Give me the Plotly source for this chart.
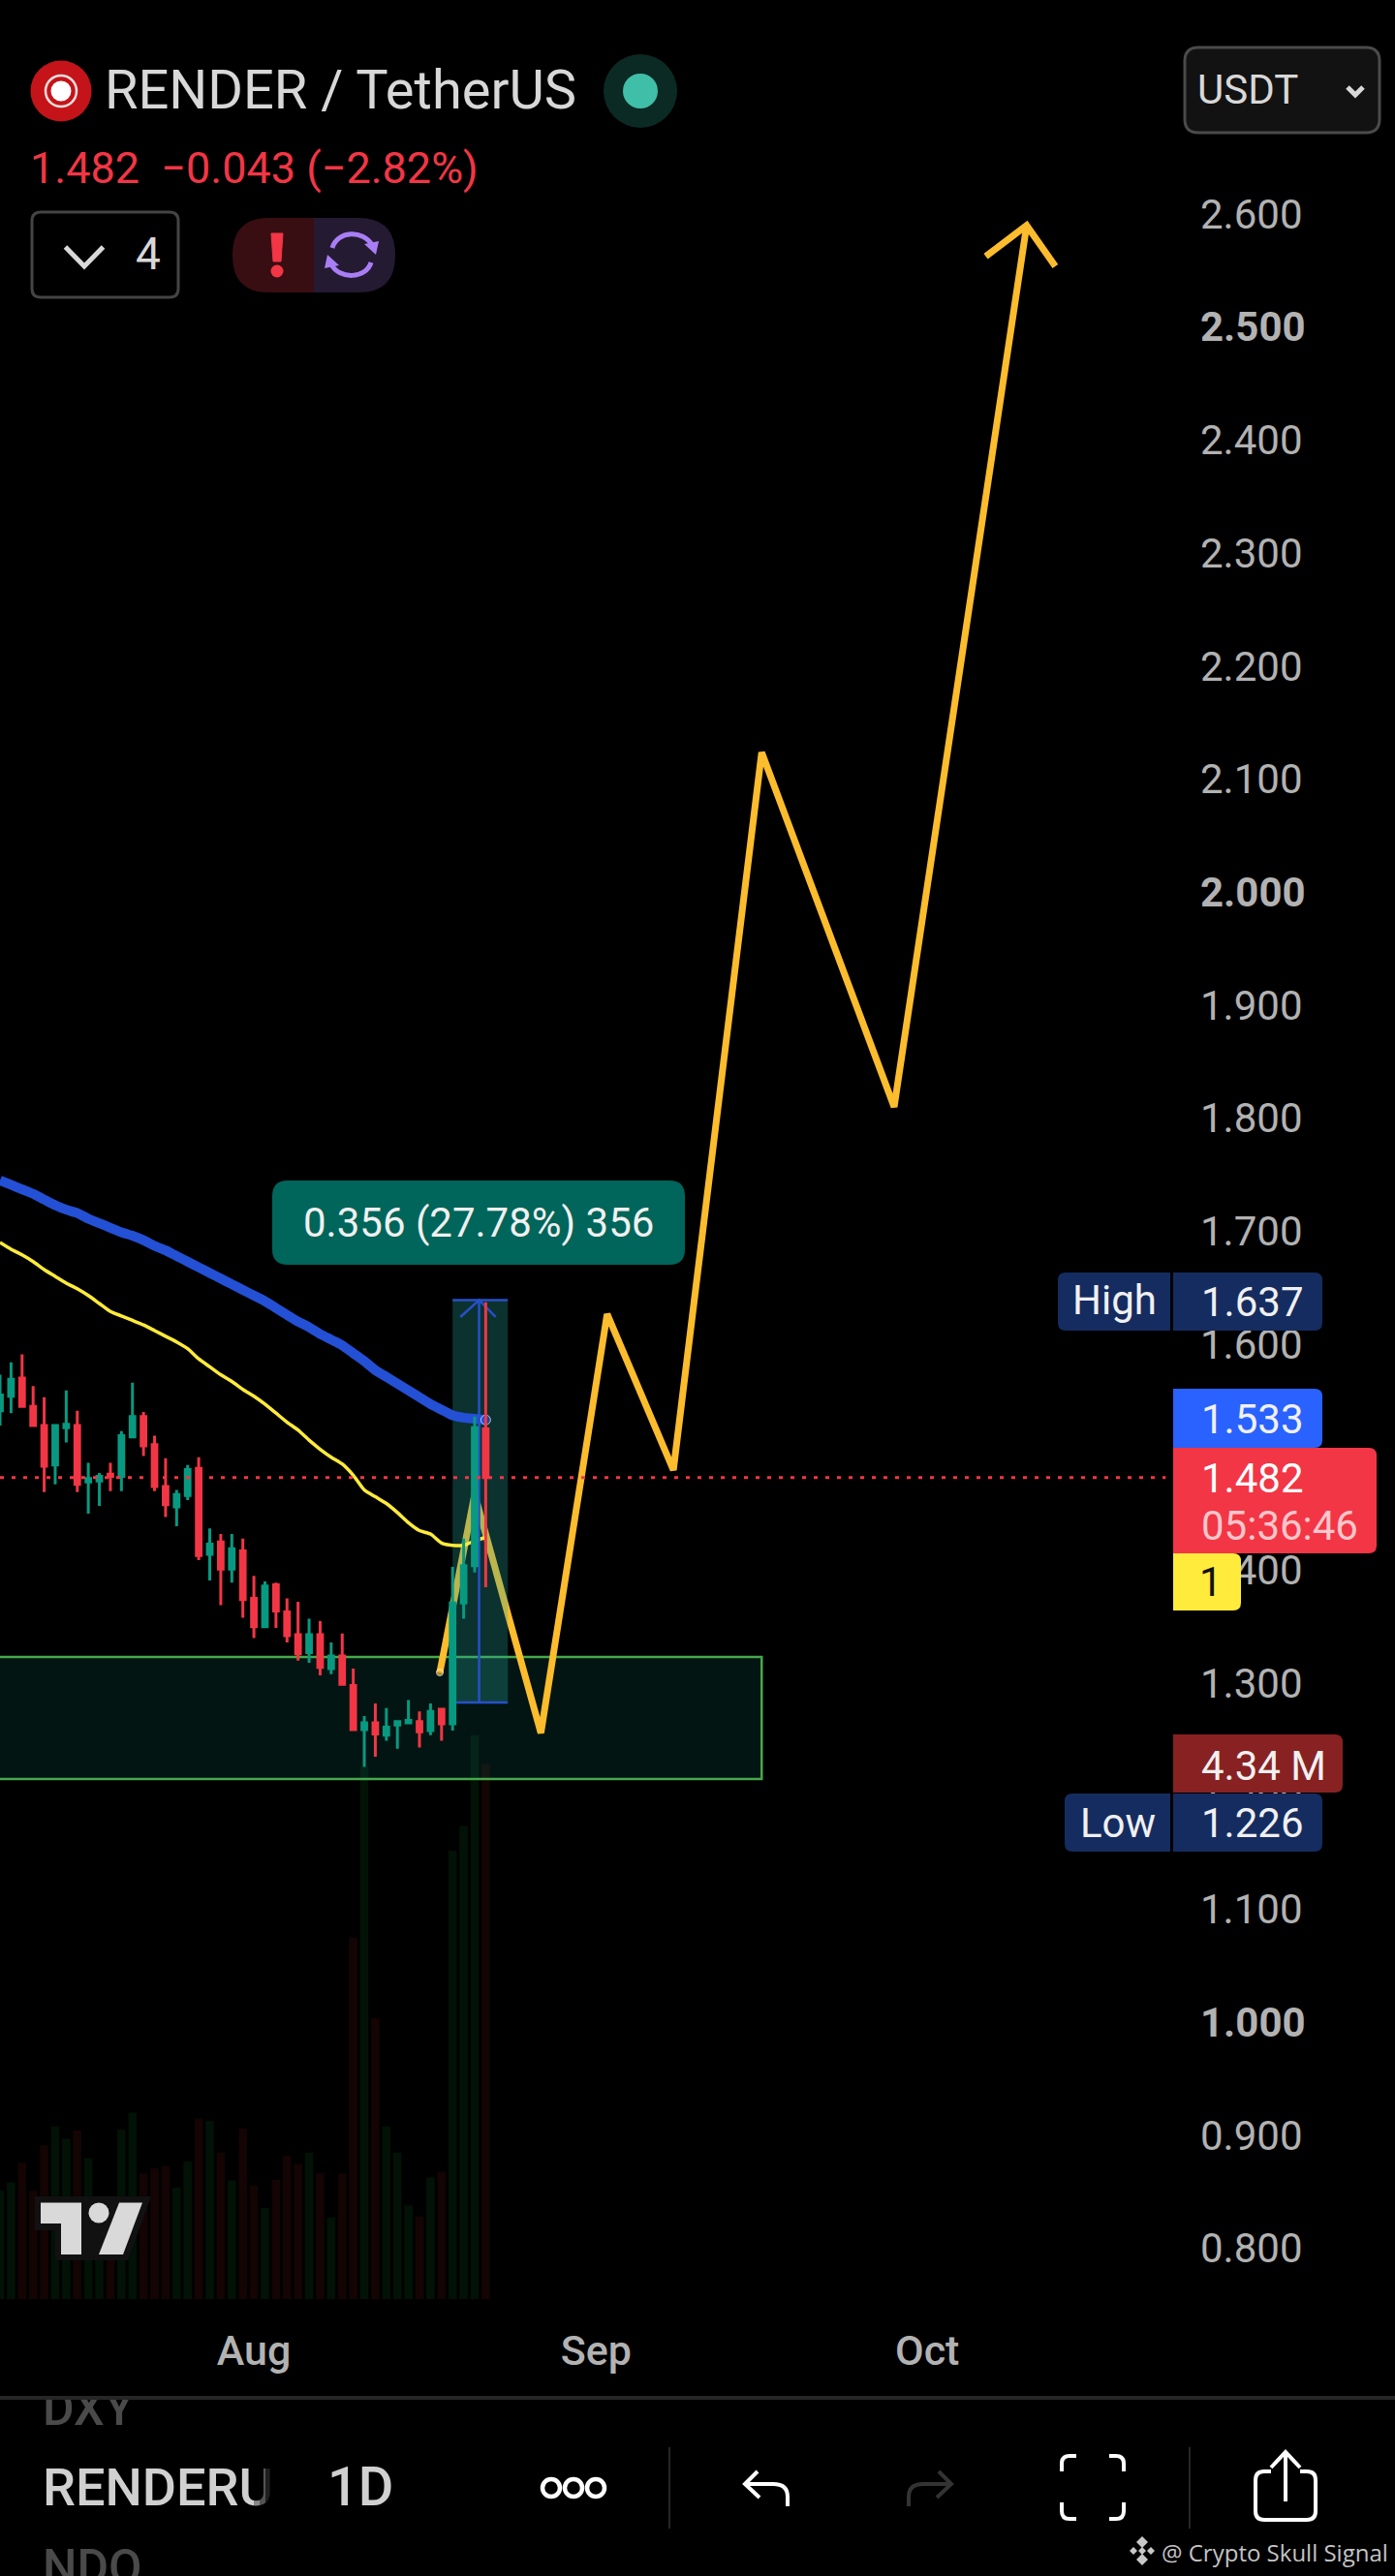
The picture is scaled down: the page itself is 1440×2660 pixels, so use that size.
import plotly.graph_objects as go

# daily bars, index -1 is the one cut by the left edge
bar_index = list(range(-1, 44))
opens = [1.541, 1.554, 1.570, 1.545, 1.528, 1.493, 1.526, 1.528, 1.478, 1.479, 1.485, 1.483, 1.518, 1.536, 1.511,
         1.474, 1.456, 1.466, 1.490, 1.414, 1.425, 1.401, 1.417, 1.375, 1.350, 1.387, 1.363, 1.343, 1.327, 1.343,
         1.313, 1.324, 1.298, 1.259, 1.265, 1.254, 1.263, 1.265, 1.266, 1.258, 1.277, 1.264, 1.371, 1.404, 1.525]
highs = [1.573, 1.584, 1.591, 1.563, 1.553, 1.529, 1.559, 1.541, 1.495, 1.486, 1.495, 1.523, 1.566, 1.540, 1.519,
         1.499, 1.471, 1.493, 1.500, 1.437, 1.432, 1.432, 1.428, 1.395, 1.390, 1.389, 1.375, 1.372, 1.357, 1.355,
         1.336, 1.344, 1.313, 1.271, 1.282, 1.278, 1.267, 1.285, 1.275, 1.282, 1.278, 1.403, 1.428, 1.536, 1.637]
lows = [1.528, 1.539, 1.545, 1.528, 1.469, 1.476, 1.513, 1.469, 1.450, 1.457, 1.470, 1.470, 1.518, 1.501, 1.470,
        1.447, 1.439, 1.462, 1.409, 1.391, 1.369, 1.389, 1.358, 1.340, 1.350, 1.349, 1.336, 1.320, 1.318, 1.307,
        1.308, 1.298, 1.258, 1.226, 1.235, 1.249, 1.242, 1.264, 1.243, 1.254, 1.249, 1.258, 1.357, 1.398, 1.385]
closes = [1.555, 1.569, 1.545, 1.528, 1.492, 1.528, 1.529, 1.476, 1.481, 1.483, 1.483, 1.519, 1.536, 1.510, 1.474,
          1.458, 1.467, 1.489, 1.413, 1.423, 1.401, 1.419, 1.374, 1.350, 1.386, 1.364, 1.342, 1.326, 1.343, 1.314,
          1.324, 1.299, 1.259, 1.265, 1.255, 1.261, 1.266, 1.267, 1.257, 1.275, 1.264, 1.371, 1.404, 1.526, 1.482]
volumes = [0.881, 0.948, 1.107, 0.878, 1.248, 1.402, 1.300, 1.369, 1.143, 0.800, 0.780, 1.378, 1.513, 1.017, 1.062,
           1.080, 0.903, 1.119, 1.465, 1.444, 1.188, 0.963, 1.384, 0.924, 0.740, 0.969, 1.164, 1.095, 1.188, 1.023,
           0.662, 1.017, 2.933, 4.326, 2.280, 1.402, 1.188, 0.761, 0.671, 0.987, 1.032, 3.640, 3.839, 4.576, 4.340]
ma_blue = [1.745, 1.741, 1.737, 1.733, 1.728, 1.723, 1.719, 1.716, 1.711, 1.707, 1.703, 1.699, 1.696, 1.692, 1.687,
           1.683, 1.678, 1.673, 1.668, 1.663, 1.658, 1.653, 1.648, 1.643, 1.638, 1.632, 1.626, 1.620, 1.615, 1.609,
           1.604, 1.599, 1.592, 1.585, 1.577, 1.571, 1.565, 1.559, 1.553, 1.547, 1.542, 1.537, 1.535, 1.534, 1.533]
ma_yellow = [1.690, 1.684, 1.679, 1.673, 1.666, 1.660, 1.654, 1.649, 1.643, 1.636, 1.629, 1.625, 1.621, 1.617, 1.612,
             1.607, 1.602, 1.596, 1.587, 1.580, 1.573, 1.567, 1.560, 1.554, 1.547, 1.539, 1.531, 1.524, 1.515, 1.507,
             1.500, 1.494, 1.484, 1.471, 1.465, 1.459, 1.451, 1.442, 1.435, 1.432, 1.424, 1.422, 1.422, 1.426, 1.429]

# hand drawn projection
path_x = [38.84, 42, 48, 54, 60, 68, 80, 92]
path_y = [1.3095, 1.467, 1.256, 1.6266, 1.4886, 2.1236, 1.81, 2.59]
head_x = [88.3, 92, 94.6]
head_y = [2.5625, 2.59, 2.5537]

zone_x = [-3, 68, 68, -3, -3]
zone_y = [1.3232, 1.3232, 1.2153, 1.2153, 1.3232]
box_x = [40, 45, 45, 40, 40]
box_y = [1.639, 1.639, 1.283, 1.283, 1.639]
measure_x = [40, 45, None, 40, 45, None, 42.4, 42.4, None, 40.7, 42.4, 43.9]
measure_y = [1.639, 1.639, None, 1.283, 1.283, None, 1.283, 1.639, None, 1.624, 1.639, 1.624]
last_x = [-1, 104.6]
last_y = [1.482, 1.482]

price_ticks = [0.8, 0.9, 1.0, 1.1, 1.2, 1.3, 1.4, 1.5, 1.6, 1.7, 1.8, 1.9, 2.0, 2.1, 2.2, 2.3, 2.4, 2.5, 2.6]
price_labels = ["0.800", "0.900", "<b>1.000</b>", "1.100", "1.200", "1.300", "1.400", "<b>1.500</b>", "1.600",
                "1.700", "1.800", "1.900", "<b>2.000</b>", "2.100", "2.200", "2.300", "2.400", "<b>2.500</b>", "2.600"]
month_ticks = [22, 53, 83]
month_labels = ["Aug", "Sep", "Oct"]

WIDTH = 1440
HEIGHT = 2660
GREEN = "#089981"
RED = "#f23645"
FONT = "Roboto"
X_RANGE = [-1.0, 125.37]
PRICE_RANGE = [0.51, 2.7894]
VOLUME_RANGE = [-2.248, 18.66]

shapes = []
notes = []


# page furniture is written in page pixels, through the x5/y5 axes
def add_path(path, fill=None, line=None, width=0):
    shapes.append(dict(type="path", xref="x5", yref="y5", path=path, fillcolor=fill, layer="above",
                       line=dict(color=line or "rgba(0,0,0,0)", width=width)))


def add_circle(cx, cy, r, fill=None, line=None, width=0):
    shapes.append(dict(type="circle", xref="x5", yref="y5", x0=cx - r, x1=cx + r, y0=cy - r, y1=cy + r,
                       fillcolor=fill, layer="above", line=dict(color=line or "rgba(0,0,0,0)", width=width)))


def rounded(x0, y0, x1, y1, r=8, left=True, right=True):
    rl = r if left else 0
    rr = r if right else 0
    return (f"M {x0 + rl} {y0} L {x1 - rr} {y0} Q {x1} {y0} {x1} {y0 + rr} L {x1} {y1 - rr} Q {x1} {y1} {x1 - rr} {y1} "
            f"L {x0 + rl} {y1} Q {x0} {y1} {x0} {y1 - rl} L {x0} {y0 + rl} Q {x0} {y0} {x0 + rl} {y0} Z")


def label(text, x, y, size, color, anchor="left", weight=400):
    notes.append(dict(text=text, x=x, y=y, xref="x5", yref="y5", xanchor=anchor, yanchor="middle", showarrow=False,
                      font=dict(family=FONT, size=size, color=color, weight=weight)))


# header
add_circle(63, 94, 31.5, fill="#c4141a")
add_circle(63, 94, 16, line="#f5dede", width=2.5)
add_circle(63, 94, 10.5, fill="#ffffff")
add_circle(661, 94, 38, fill="#0c2a24")
add_circle(661, 94, 18, fill="#40bfa8")
label("RENDER / TetherUS", 106, 93, 56, "#d8d8d8")
label("1.482\u00a0\u00a0\u22120.043 (\u22122.82%)", 29, 173, 45, RED)
add_path(rounded(33, 219, 184, 307, 9), line="#444444", width=3)
add_path("M 67.5 255 L 87 275 L 106.5 255", line="#d8d8d8", width=5)
label("4", 138, 262, 46, "#d8d8d8")
add_path(rounded(240, 225, 324, 302, 38, right=False), fill="#380e12")
add_path(rounded(324, 225, 408, 302, 38, left=False), fill="#241a32")
add_path("M 280 241 L 292 241 L 290 270 L 282 270 Z", fill=RED, line=RED, width=1)
add_circle(286, 280, 6.5, fill=RED)
add_path("M 343 256 C 348 238, 375 237, 384 253", line="#a97ef5", width=5)
add_path("M 383 271 C 378 288, 350 289, 342 273", line="#a97ef5", width=5)
add_path("M 391 249 L 376 252 L 388 263 Z", fill="#a97ef5")
add_path("M 335 277 L 350 274 L 338 263 Z", fill="#a97ef5")
add_path(rounded(1223, 49, 1424, 137, 14), fill="#121212", line="#4a4a4a", width=3)
label("USDT", 1234, 92, 42, "#d8d8d8")
add_path("M 1391 90 L 1399 98 L 1407 90", line="#d8d8d8", width=5)

# measure tool label
add_path(rounded(281, 1219, 707, 1306, 16), fill="#00655a")
label("0.356 (27.78%) 356", 494, 1262, 42, "#f0f0f0", "center")

# price scale tags
add_path(rounded(1092, 1314, 1208, 1374, 8, right=False), fill="#152c60")
add_path(rounded(1211, 1314, 1365, 1374, 8, left=False), fill="#152c60")
label("High", 1150, 1342, 42, "#f0f0f0", "center")
label("1.637", 1238, 1344, 42, "#f0f0f0")
add_path(rounded(1211, 1434, 1365, 1495, 8, left=False), fill="#2962ff")
label("1.533", 1238, 1465, 42, "#f0f0f0")
add_path(rounded(1211, 1495, 1421, 1604, 8, left=False), fill=RED)
label("1.482", 1238, 1526, 42, "#ffffff")
label("05:36:46", 1238, 1575, 42, "#ffc6cb")
add_path(rounded(1211, 1604, 1281, 1663, 8, left=False), fill="#ffeb3b")
label("1", 1250, 1633, 42, "#111111", "center")
add_path(rounded(1211, 1791, 1386, 1851, 8, left=False), fill="#882122")
label("4.34 M", 1238, 1823, 42, "#f0f0f0")
add_path(rounded(1099, 1852, 1208, 1912, 8, right=False), fill="#152c60")
add_path(rounded(1211, 1852, 1365, 1912, 8, left=False), fill="#152c60")
label("Low", 1154, 1882, 42, "#f0f0f0", "center")
label("1.226", 1238, 1882, 42, "#f0f0f0")

# tradingview mark
add_path("M 36 2268 L 156 2268 L 132 2334 L 57 2334 L 57 2303 L 36 2303 Z", fill="#111111")
add_path("M 42 2274.5 L 84 2274.5 L 84 2328 L 63 2328 L 63 2296 L 42 2296 Z", fill="#d9d9d9")
add_circle(102, 2285, 10.5, fill="#d9d9d9")
add_path("M 123 2274.5 L 147 2274.5 L 127 2328 L 102 2328 Z", fill="#d9d9d9")

# bottom bar
add_path("M 0 2476 L 1440 2476", line="#262626", width=4)
for alpha, x0 in [(0.35, 262), (0.6, 268), (0.85, 274)]:
    add_path(f"M {x0} 2540 L {x0 + 6} 2540 L {x0 + 6} 2600 L {x0} 2600 Z", fill=f"rgba(0,0,0,{alpha})")
add_path("M 280 2540 L 330 2540 L 330 2600 L 280 2600 Z", fill="#000000")
label("1D", 336, 2568, 56, "#d0d0d0", weight=500)
for cx in [569, 592, 615]:
    add_circle(cx, 2569, 9, line="#ffffff", width=4.5)
add_path("M 691 2527 L 691 2611", line="#262626", width=2)
add_path("M 1228 2527 L 1228 2611", line="#262626", width=2)
add_path("M 813 2588 L 813 2578 Q 813 2565 798 2565 L 769 2565 M 782 2552 L 769 2565 L 784 2579", line="#ffffff", width=4)
add_path("M 938 2588 L 938 2578 Q 938 2565 953 2565 L 982 2565 M 969 2552 L 982 2565 L 967 2579", line="#333333", width=4)
for corner in ["M 1096 2552 L 1096 2544 Q 1096 2536 1104 2536 L 1111 2536",
               "M 1145 2536 L 1152 2536 Q 1160 2536 1160 2544 L 1160 2552",
               "M 1096 2584 L 1096 2593 Q 1096 2601 1104 2601 L 1111 2601",
               "M 1145 2601 L 1152 2601 Q 1160 2601 1160 2593 L 1160 2584"]:
    add_path(corner, line="#ffffff", width=4)
add_path("M 1312 2552 L 1305 2552 Q 1296 2552 1296 2561 L 1296 2593 Q 1296 2602 1305 2602 L 1349 2602 Q 1358 2602 "
         "1358 2593 L 1358 2561 Q 1358 2552 1349 2552 L 1342 2552", line="#ffffff", width=4)
add_path("M 1327 2583 L 1327 2532 M 1312 2548 L 1327 2532 L 1342 2548", line="#ffffff", width=4)
for cx, cy, r in [(1179, 2625, 6), (1179, 2643, 6), (1170, 2634, 4), (1188, 2634, 4), (1179, 2634, 4)]:
    add_path(f"M {cx} {cy - r} L {cx + r} {cy} L {cx} {cy + r} L {cx - r} {cy} Z", fill="#c8c8c8")
notes.append(dict(text="@ Crypto Skull Signal", x=1197, y=2635, xref="x5", yref="y5", xanchor="left", yanchor="middle",
                  showarrow=False, font=dict(family="Open Sans", size=24, color="#c4c4c4")))

fig = go.Figure()

vol_colors = ["#021206" if c >= o else "#140404" for o, c in zip(opens, closes)]
fig.add_trace(go.Bar(x=bar_index, y=volumes, marker=dict(color=vol_colors, line_width=0), yaxis="y", hoverinfo="skip"))

fig.add_trace(go.Scatter(x=zone_x, y=zone_y, mode="lines", fill="toself", fillcolor="rgba(20,130,110,0.16)",
                         line=dict(color="#47a84b", width=2.5), yaxis="y2", hoverinfo="skip"))
# the projection sits under the measure box, the averages over it
fig.add_trace(go.Scatter(x=path_x, y=path_y, mode="lines+markers", line=dict(color="#fbbc2d", width=7),
                         marker=dict(color="#fbbc2d", size=[7] + [0] * 7), yaxis="y2", hoverinfo="skip"))
fig.add_trace(go.Scatter(x=head_x, y=head_y, mode="lines", line=dict(color="#fbbc2d", width=7),
                         yaxis="y2", hoverinfo="skip"))
fig.add_trace(go.Scatter(x=box_x, y=box_y, mode="lines", fill="toself", fillcolor="rgba(38,166,154,0.3)",
                         line=dict(width=0), yaxis="y2", hoverinfo="skip"))
fig.add_trace(go.Scatter(x=bar_index, y=ma_yellow, mode="lines", line=dict(color="#ffeb3b", width=3.5, shape="spline", smoothing=0.6),
                         yaxis="y2", hoverinfo="skip"))
# marker only rounds off the free end of the thick line
fig.add_trace(go.Scatter(x=bar_index, y=ma_blue, mode="lines+markers", line=dict(color="#2350d4", width=10, shape="spline", smoothing=0.6),
                         marker=dict(color="#2350d4", size=[0] * 44 + [10]), yaxis="y2", hoverinfo="skip"))
fig.add_trace(go.Scatter(x=measure_x, y=measure_y, mode="lines", line=dict(color="#2750c8", width=2.5),
                         yaxis="y2", hoverinfo="skip"))

fig.add_trace(go.Candlestick(x=bar_index, open=opens, high=highs, low=lows, close=closes, yaxis="y3",
                             whiskerwidth=0, hoverinfo="skip",
                             increasing=dict(line=dict(color=GREEN, width=3), fillcolor=GREEN),
                             decreasing=dict(line=dict(color=RED, width=3), fillcolor=RED)))
fig.add_trace(go.Scatter(x=last_x, y=last_y, mode="lines", line=dict(color=RED, width=3, dash="4px,8px"),
                         yaxis="y3", hoverinfo="skip"))

# names cut off by the bottom bar, clipped by their own small subplot
fig.add_trace(go.Scatter(x=[44, 44, 44], y=[2491, 2573, 2655], mode="text", text=["DXY", "RENDERU", "NDO"],
                         textposition="middle right", xaxis="x6", yaxis="y6", hoverinfo="skip",
                         textfont=dict(family=FONT, size=[50, 54, 50], weight=500, color=["#4a4a4a", "#d0d0d0", "#4a4a4a"])))

hidden = dict(visible=False, showgrid=False, zeroline=False)
fig.update_layout(
    width=WIDTH, height=HEIGHT, margin=dict(l=0, r=0, t=0, b=0), autosize=False,
    paper_bgcolor="#000000", plot_bgcolor="rgba(0,0,0,0)", showlegend=False,
    bargap=0.24, boxgap=0.4, shapes=shapes, annotations=notes,
    xaxis=dict(domain=[0, 1], range=X_RANGE, anchor="free", position=(HEIGHT - 2398) / HEIGHT, side="bottom",
               showgrid=False, zeroline=False, showline=False, ticks="", rangeslider=dict(visible=False),
               tickmode="array", tickvals=month_ticks, ticktext=month_labels,
               tickfont=dict(family=FONT, size=43, color="#b2b2b2", weight=500)),
    yaxis=dict(domain=[0, 1], range=VOLUME_RANGE, **hidden),
    yaxis2=dict(domain=[0, 1], range=PRICE_RANGE, overlaying="y", side="right", anchor="free",
                position=1238 / WIDTH, showgrid=False, zeroline=False, showline=False, ticks="",
                tickmode="array", tickvals=price_ticks, ticktext=price_labels,
                tickfont=dict(family=FONT, size=42, color="#b2b2b2")),
    yaxis3=dict(domain=[0, 1], range=PRICE_RANGE, overlaying="y", **hidden),
    xaxis5=dict(domain=[0, 1], range=[0, WIDTH], anchor="y5", **hidden),
    yaxis5=dict(domain=[0, 1], range=[HEIGHT, 0], anchor="x5", **hidden),
    xaxis6=dict(domain=[0, 1], range=[0, WIDTH], anchor="y6", **hidden),
    yaxis6=dict(domain=[0, (HEIGHT - 2478) / HEIGHT], range=[HEIGHT, 2478], anchor="x6", **hidden),
)

# the photographed page must start at the window corner
fig.write_html("out.html", config=dict(displayModeBar=False), post_script="document.body.style.margin='0';")
